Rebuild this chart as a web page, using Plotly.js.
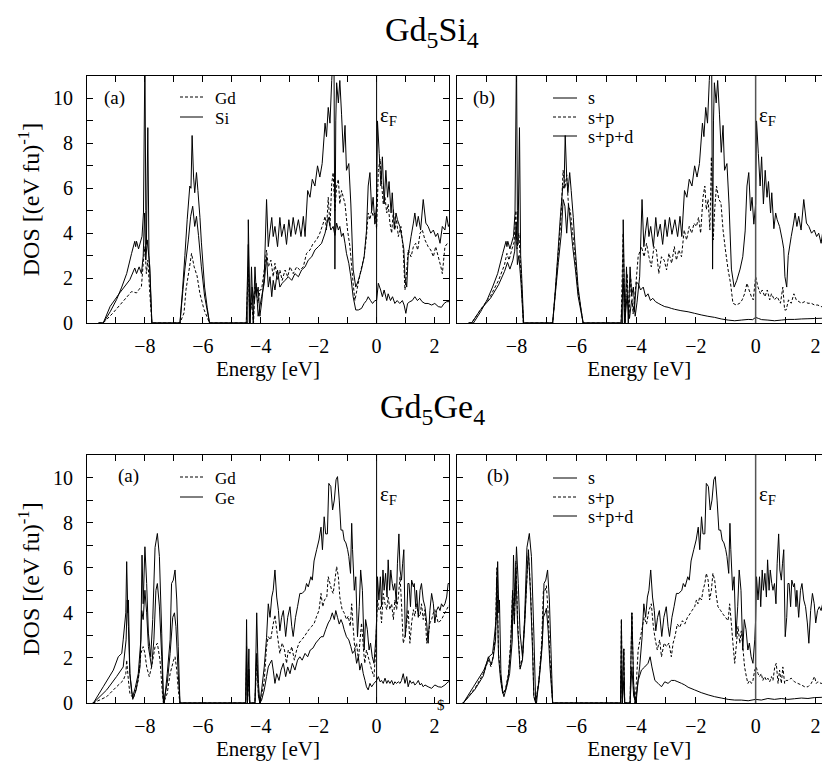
<!DOCTYPE html>
<html><head><meta charset="utf-8">
<script src="https://cdn.plot.ly/plotly-3.0.1.min.js"></script>
<style>body{margin:0;background:#fff}#chart{width:822px;height:769px}</style>
</head><body><div id="chart"></div>
<script>
// ---------- Gd5Si4 : total DOS (top solid in a, s+p+d in b) ----------
const siTotalE = [-9.6,-9.44,-9.2,-8.98,-8.8,-8.63,-8.46,-8.35,-8.32,-8.29,
 -8.22,-8.1,-8.05,-8.0,-7.97,-7.95,-7.9,-7.86,-7.83,-7.76,
 -6.79,-6.7,-6.62,-6.54,-6.45,-6.41,-6.37,-6.32,-6.28,-6.22,
 -6.17,-6.1,-6.05,-5.94,-5.85,-5.77,-4.5,-4.45,-4.43,-4.37,
 -4.32,-4.26,-4.2,-4.15,-4.09,-4.03,-3.97,-3.88,-3.8,-3.74,
 -3.68,-3.62,-3.57,-3.51,-3.42,-3.34,-3.28,-3.19,-3.11,-3.03,
 -2.96,-2.88,-2.8,-2.7,-2.61,-2.53,-2.47,-2.38,-2.3,-2.22,
 -2.13,-2.04,-1.96,-1.88,-1.78,-1.73,-1.67,-1.61,-1.55,-1.5,
 -1.47,-1.44,-1.41,-1.38,-1.32,-1.27,-1.21,-1.15,-1.09,-1.04,
 -0.96,-0.89,-0.81,-0.72,-0.63,-0.52,-0.43,-0.35,-0.29,-0.23,
 -0.17,-0.12,-0.06,0,0.03,0.09,0.15,0.2,0.26,0.32,
 0.38,0.43,0.5,0.54,0.61,0.67,0.72,0.8,0.89,0.94,
 0.98,1.04,1.09,1.19,1.27,1.32,1.38,1.44,1.52,1.61,
 1.7,1.78,1.87,1.96,2.04,2.11,2.19,2.27,2.36,2.42,
 2.48,2.55];
const siTotalD = [0,0,0.5,1.04,1.6,2.2,3.1,3.64,3.4,3.64,
 3.3,3.86,4.9,12,5.0,3.5,8.7,3.0,2.2,0,
 0,1.5,3.0,4.6,6.1,6.0,8.35,6.5,5.8,6.7,
 5.9,4.7,3.6,1.6,0.7,0,0,0,4.6,0,
 2.5,0,2.5,1.2,1.6,0.3,0.9,2.06,5.5,3.4,
 4.1,4.7,3.85,4.3,3.4,4.7,3.85,4.4,3.5,4.6,
 3.85,4.7,3.95,4.6,3.85,4.75,3.85,5.9,5.6,6.4,
 6.1,7.0,6.5,7.1,8.9,8.3,9.6,8.9,10.8,12,
 11.5,2.4,9.0,10.7,9.8,10.8,9.3,7.6,8.8,6.8,
 7.1,5.3,2.4,1.6,1.9,2.4,2.95,4.1,6.1,6.7,
 5.0,5.6,4.4,5.3,9.0,7.55,6.1,7.4,5.3,6.8,
 5.6,6.3,4.9,5.8,4.2,4.9,4.6,4.3,3.7,3.3,
 2.06,1.6,3.0,3.85,4.45,4.9,4.3,4.75,4.14,5.5,
 4.45,4.3,4.0,4.14,3.85,4.0,3.55,4.3,4.14,4.75,
 4.3,4.5];

// Gd5Si4 (a): Gd (dashed)
const siGdE = [-9.6,-9.44,-9.1,-8.75,-8.46,-8.29,-8.2,-8.12,-8.05,-8.0,
 -7.95,-7.9,-7.83,-7.76,-6.79,-6.65,-6.58,-6.47,-6.39,-6.3,
 -6.2,-6.1,-5.96,-5.77,-4.5,-4.43,-4.38,-4.32,-4.25,-4.2,
 -4.09,-4.03,-3.97,-3.88,-3.8,-3.74,-3.65,-3.57,-3.51,-3.42,
 -3.34,-3.26,-3.16,-3.07,-2.99,-2.88,-2.76,-2.65,-2.53,-2.42,
 -2.3,-2.19,-2.07,-1.96,-1.84,-1.78,-1.73,-1.67,-1.61,-1.55,
 -1.5,-1.44,-1.38,-1.32,-1.27,-1.21,-1.15,-1.09,-1.0,-0.92,
 -0.86,-0.81,-0.75,-0.66,-0.54,-0.43,-0.35,-0.29,-0.23,-0.17,
 -0.12,-0.06,0,0.06,0.12,0.17,0.23,0.29,0.35,0.4,
 0.46,0.52,0.58,0.63,0.69,0.75,0.84,0.92,0.98,1.04,
 1.09,1.19,1.27,1.35,1.42,1.5,1.58,1.67,1.78,1.87,
 1.96,2.04,2.13,2.22,2.27,2.36,2.45,2.55];
const siGdD = [0,0,0.45,0.97,1.4,1.34,1.5,1.63,2.8,3.4,
 2.2,2.8,1.3,0,0,0.45,1.5,2.4,3.1,2.5,
 2.1,1.3,0.6,0,0,2.5,0.3,0.9,0,1.6,
 0.9,1.47,1.5,2.36,3.25,2.5,2.8,2.06,2.66,1.9,
 2.36,1.9,2.36,2.06,2.5,2.2,2.5,2.36,2.5,3.1,
 3.25,3.55,3.7,4.0,4.45,4.75,4.14,5.6,4.3,6.2,
 6.7,5.0,6.1,6.4,5.3,5.9,5.6,5.3,4.1,3.4,
 2.5,1.77,1.0,1.6,2.36,2.95,3.85,4.9,4.6,5.0,
 4.75,4.9,4.2,6.8,7.3,6.25,5.3,5.6,4.9,5.3,
 4.45,4.0,5.05,4.14,4.6,3.85,4.3,3.25,1.47,2.36,
 3.25,2.95,3.4,3.55,3.25,4.0,4.14,3.7,3.4,3.25,
 2.95,3.4,2.95,2.5,2.2,3.4,3.55,3.6];

// Gd5Si4 (a): Si (lower solid)
const siSiE = [-9.6,-9.44,-9.2,-8.87,-8.52,-8.35,-8.29,-8.2,-8.12,-8.06,
 -8.01,-7.97,-7.92,-7.83,-7.76,-6.79,-6.7,-6.62,-6.5,-6.42,
 -6.35,-6.28,-6.22,-6.15,-6.05,-5.94,-5.77,-4.5,-4.43,-4.38,
 -4.3,-4.22,-4.16,-4.09,-3.97,-3.88,-3.8,-3.74,-3.68,-3.62,
 -3.57,-3.51,-3.42,-3.34,-3.26,-3.16,-3.05,-2.93,-2.82,-2.7,
 -2.59,-2.47,-2.36,-2.24,-2.13,-2.01,-1.9,-1.78,-1.73,-1.67,
 -1.58,-1.5,-1.44,-1.38,-1.32,-1.27,-1.21,-1.15,-1.09,-1.04,
 -0.96,-0.89,-0.81,-0.72,-0.63,-0.52,-0.43,-0.35,-0.29,-0.21,
 -0.14,-0.06,0,0.06,0.14,0.2,0.26,0.35,0.4,0.48,
 0.55,0.63,0.71,0.8,0.89,0.95,1.01,1.07,1.15,1.23,
 1.32,1.41,1.49,1.57,1.67,1.78,1.9,2.01,2.13,2.24,
 2.33,2.42,2.55];
const siSiD = [0,0,0.74,1.34,1.93,2.45,2.2,2.5,2.2,2.97,
 4.9,2.8,3.7,2.5,0,0,1.3,2.4,3.7,4.75,
 5.2,4.3,4.75,3.9,2.5,1.2,0,0,3.5,0,
 1.6,0.9,1.77,0.3,1.17,1.77,2.95,1.6,2.06,1.17,
 1.9,1.47,2.36,1.6,1.77,1.9,2.06,1.9,2.2,2.06,
 2.36,2.5,2.8,2.95,3.25,3.4,3.55,4.0,4.3,4.7,
 4.14,4.3,3.9,4.45,4.14,4.3,3.85,4.0,3.55,3.1,
 2.66,2.06,1.17,0.58,0.58,0.65,0.87,1.0,1.17,1.0,
 0.87,1.0,1.0,1.77,1.47,1.17,1.47,1.0,1.3,1.0,
 1.17,0.87,1.0,0.87,1.0,0.8,0.43,0.87,0.95,1.0,
 1.17,1.0,1.1,0.95,0.87,0.87,0.8,0.87,0.73,0.7,
 0.87,0.95,0.95];

// Gd5Si4 (b): s+p (dashed)
const siSPE = [-9.6,-9.5,-9.2,-8.87,-8.6,-8.4,-8.32,-8.25,-8.15,-8.08,
 -8.02,-7.98,-7.92,-7.85,-7.77,-6.79,-6.7,-6.62,-6.52,-6.44,
 -6.38,-6.32,-6.26,-6.2,-6.12,-6.03,-5.94,-5.77,-4.5,-4.43,
 -4.38,-4.3,-4.24,-4.18,-4.1,-4.02,-3.93,-3.82,-3.73,-3.65,
 -3.57,-3.49,-3.4,-3.32,-3.24,-3.15,-3.06,-2.98,-2.9,-2.81,
 -2.72,-2.65,-2.57,-2.48,-2.39,-2.31,-2.22,-2.14,-2.06,-1.98,
 -1.91,-1.84,-1.76,-1.7,-1.65,-1.59,-1.53,-1.48,-1.42,-1.37,
 -1.31,-1.23,-1.16,-1.09,-1.01,-0.92,-0.84,-0.76,-0.65,-0.53,
 -0.45,-0.37,-0.29,-0.22,-0.14,-0.08,0,0.08,0.16,0.22,
 0.31,0.39,0.47,0.53,0.63,0.72,0.83,0.91,0.97,1.02,
 1.1,1.19,1.28,1.36,1.45,1.53,1.64,1.75,1.86,1.97,
 2.08,2.19,2.3];
const siSPD = [0,0,0.6,1.2,1.9,2.6,3.1,2.8,3.3,3.6,
 5.0,3.3,4.0,2.2,0,0,1.4,2.8,4.5,6.8,
 6.0,6.6,5.2,5.0,4.0,2.8,1.4,0,0,4.0,
 0,2.2,0.3,2.0,0.4,1.5,2.95,3.4,2.95,3.55,
 2.95,2.5,3.4,3.25,2.2,2.95,2.8,2.36,3.1,2.66,
 3.4,2.8,3.25,2.95,4.14,3.7,4.3,4.0,4.44,4.3,
 4.7,4.0,5.6,6.1,5.05,5.5,4.14,7.4,3.7,5.05,
 6.1,5.5,5.35,4.14,3.25,2.36,1.77,0.88,0.8,0.88,
 1.03,1.3,1.77,1.47,1.17,1.03,2.06,1.6,1.3,1.47,
 1.17,1.47,1.03,1.3,1.03,1.17,0.88,1.6,0.58,0.58,
 1.03,0.88,1.3,1.03,0.95,0.88,0.95,0.88,0.88,0.8,
 0.8,0.73,0.73];

// Gd5Si4 (b): s (lowest solid)
const siSE = [-9.6,-9.5,-9.2,-8.87,-8.6,-8.4,-8.3,-8.22,-8.12,-8.06,
 -8.01,-7.97,-7.92,-7.85,-7.77,-6.79,-6.7,-6.6,-6.5,-6.44,
 -6.38,-6.32,-6.26,-6.2,-6.12,-6.03,-5.94,-5.77,-4.5,-4.43,
 -4.38,-4.3,-4.22,-4.15,-4.06,-3.99,-3.93,-3.85,-3.76,-3.68,
 -3.6,-3.52,-3.44,-3.35,-3.26,-3.15,-3.04,-2.93,-2.82,-2.71,
 -2.5,-2.26,-2.04,-1.82,-1.6,-1.37,-1.15,-0.92,-0.7,-0.48,
 -0.25,-0.1,0,0.1,0.2,0.41,0.63,0.86,1.08,1.3,
 1.53,1.75,1.97,2.19,2.3];
const siSD = [0,0,0.6,1.1,1.7,2.3,2.7,2.4,2.8,3.2,
 4.5,2.6,3.0,1.8,0,0,1.3,2.7,4.0,5.5,
 5.2,4.0,5.3,4.5,3.4,2.4,1.2,0,0,2.0,
 0,1.2,0.2,1.0,0.5,1.8,1.77,1.47,1.6,1.17,
 1.3,1.0,1.1,0.95,0.88,0.8,0.73,0.7,0.65,0.61,
 0.55,0.5,0.43,0.36,0.3,0.25,0.18,0.13,0.1,0.13,
 0.16,0.15,0.25,0.2,0.15,0.13,0.1,0.13,0.16,0.16,
 0.18,0.19,0.2,0.21,0.22];

// ---------- Gd5Ge4 : total DOS ----------
const geTotalE = [-9.8,-9.78,-9.44,-9.09,-8.92,-8.8,-8.75,-8.66,-8.63,-8.59,
 -8.57,-8.52,-8.46,-8.42,-8.33,-8.23,-8.14,-8.1,-8.06,-8.0,
 -7.94,-7.88,-7.8,-7.73,-7.65,-7.57,-7.5,-7.42,-7.36,-7.33,
 -7.23,-7.13,-7.08,-7.02,-6.96,-6.9,-6.85,-6.79,-4.52,-4.49,
 -4.46,-4.41,-4.38,-4.2,-4.14,-4.08,-4.03,-3.97,-3.88,-3.8,
 -3.74,-3.68,-3.62,-3.57,-3.51,-3.45,-3.39,-3.34,-3.28,-3.22,
 -3.14,-3.07,-2.99,-2.93,-2.88,-2.8,-2.73,-2.65,-2.57,-2.47,
 -2.42,-2.36,-2.27,-2.22,-2.16,-2.07,-1.99,-1.92,-1.87,-1.81,
 -1.76,-1.7,-1.65,-1.58,-1.52,-1.46,-1.4,-1.35,-1.29,-1.23,
 -1.17,-1.12,-1.06,-1.0,-0.96,-0.9,-0.86,-0.83,-0.77,-0.72,
 -0.66,-0.6,-0.55,-0.49,-0.43,-0.38,-0.32,-0.26,-0.21,-0.15,
 -0.09,-0.03,0,0.03,0.08,0.13,0.17,0.22,0.26,0.31,
 0.36,0.4,0.45,0.49,0.54,0.58,0.63,0.68,0.72,0.77,
 0.81,0.86,0.9,0.94,0.99,1.04,1.08,1.12,1.17,1.21,
 1.27,1.3,1.35,1.38,1.44,1.5,1.55,1.61,1.67,1.73,
 1.78,1.84,1.9,1.96,2.01,2.07,2.13,2.19,2.24,2.3,
 2.36,2.42,2.47,2.55];
const geTotalD = [0,0,0.72,1.46,2.05,2.2,2.8,4.0,6.27,4.0,
 4.57,1.3,0.5,0.28,0.7,1.3,2.8,6.56,4.4,6.93,
 5.3,3.1,2.05,3.7,6.9,7.52,6.5,3.1,0.13,0,
 1.3,2.8,5.3,5.45,5.9,4.57,2.5,0,0,3.7,
 0,2.4,0,0,4.0,0.87,0,0.58,1.6,2.9,
 4.4,3.8,4.7,5.0,5.9,4.7,4.1,3.2,3.8,4.1,
 2.95,3.8,4.27,3.4,2.95,3.8,4.27,4.86,4.86,5.0,
 5.3,5.15,5.6,5.45,6.3,6.8,7.23,7.8,6.8,8.26,
 7.5,7.5,9.74,9.6,8.56,9.0,9.9,10.04,9.0,7.67,
 7.67,7.23,7.1,6.8,6.5,5.75,7.97,6.8,5.0,5.6,
 2.94,4.27,5.9,5.0,2.35,3.7,3.25,2.35,2.66,2.05,
 1.76,2.8,3.7,5.6,4.57,5.6,4.27,5.9,5.0,5.75,
 4.7,6.35,5.0,5.9,5.3,5.0,5.3,4.4,6.2,7.5,
 5.9,5.45,6.2,6.8,2.94,3.8,5.3,5.3,4.27,5.45,
 5.15,5.3,4.27,5.0,3.8,5.0,5.3,4.57,4.27,3.55,
 2.65,4.1,4.86,4.4,3.55,4.1,4.27,4.1,4.4,4.27,
 4.4,4.7,5.3,5.3];

// Gd5Ge4 (a): Gd (dashed)
const geGdE = [-9.8,-9.78,-9.32,-8.98,-8.75,-8.66,-8.63,-8.57,-8.52,-8.4,
 -8.23,-8.14,-8.06,-8.0,-7.94,-7.85,-7.77,-7.65,-7.57,-7.48,
 -7.4,-7.36,-7.23,-7.13,-7.01,-6.96,-6.9,-6.85,-6.79,-4.52,
 -4.49,-4.46,-4.41,-4.38,-4.2,-4.14,-4.08,-4.03,-3.97,-3.88,
 -3.8,-3.74,-3.66,-3.57,-3.51,-3.45,-3.39,-3.34,-3.26,-3.18,
 -3.11,-3.05,-2.99,-2.93,-2.84,-2.76,-2.68,-2.59,-2.5,-2.42,
 -2.34,-2.24,-2.15,-2.07,-1.99,-1.92,-1.86,-1.8,-1.72,-1.67,
 -1.61,-1.55,-1.5,-1.44,-1.38,-1.32,-1.27,-1.19,-1.12,-1.04,
 -0.98,-0.91,-0.86,-0.82,-0.75,-0.69,-0.63,-0.57,-0.52,-0.45,
 -0.41,-0.35,-0.29,-0.23,-0.17,-0.09,-0.03,0,0.03,0.08,
 0.13,0.17,0.23,0.29,0.35,0.4,0.46,0.52,0.58,0.63,
 0.69,0.75,0.81,0.86,0.92,0.98,1.04,1.09,1.15,1.21,
 1.27,1.32,1.38,1.44,1.5,1.55,1.61,1.67,1.73,1.78,
 1.84,1.9,1.96,2.01,2.13,2.24,2.36,2.47,2.55];
const geGdD = [0,0,0.28,0.72,1.0,1.3,1.9,1.0,0.43,0.2,
 1.0,2.2,2.5,2.2,1.6,1.17,1.6,2.5,2.65,1.9,
 0.5,0,0.43,1.3,1.9,2.05,1.46,0.6,0,0,
 1.8,0,1.2,0,0,2.0,0.4,0,0.28,1.0,
 2.5,2.94,2.8,3.5,3.9,3.25,2.66,2.2,2.66,2.35,
 1.76,2.35,2.2,2.5,1.9,2.35,2.66,2.8,2.94,3.1,
 3.25,3.4,3.55,3.85,4.1,4.86,4.27,4.57,4.7,5.6,
 5.3,5.0,4.86,5.45,6.05,5.6,4.7,4.14,4.0,3.7,
 3.85,3.4,4.4,3.55,2.35,2.66,1.9,2.8,3.55,2.35,
 1.76,2.35,2.05,1.76,1.46,1.17,2.35,3.55,4.57,4.14,
 4.27,3.55,4.86,4.4,4.14,4.7,4.14,4.4,3.7,4.57,
 4.14,4.7,5.6,4.4,2.65,2.94,3.55,4.14,2.65,3.55,
 4.14,3.85,4.4,3.94,3.85,4.4,3.7,4.14,2.65,2.94,
 3.55,3.7,4.0,4.14,3.55,3.7,4.0,4.27,4.4];

// Gd5Ge4 (a): Ge (lower solid)
const geGeE = [-9.8,-9.78,-9.32,-8.98,-8.75,-8.65,-8.61,-8.57,-8.52,-8.42,
 -8.3,-8.17,-8.11,-8.06,-8.0,-7.94,-7.88,-7.77,-7.69,-7.62,
 -7.57,-7.5,-7.42,-7.36,-7.23,-7.13,-7.04,-6.98,-6.93,-6.85,
 -6.79,-4.52,-4.49,-4.46,-4.41,-4.38,-4.2,-4.14,-4.08,-4.03,
 -3.97,-3.88,-3.8,-3.74,-3.68,-3.62,-3.57,-3.51,-3.45,-3.37,
 -3.3,-3.22,-3.14,-3.07,-2.99,-2.91,-2.82,-2.73,-2.65,-2.57,
 -2.47,-2.38,-2.29,-2.2,-2.1,-2.01,-1.92,-1.84,-1.76,-1.67,
 -1.6,-1.53,-1.46,-1.41,-1.35,-1.29,-1.23,-1.17,-1.12,-1.04,
 -0.96,-0.89,-0.83,-0.75,-0.69,-0.63,-0.58,-0.52,-0.46,-0.4,
 -0.35,-0.29,-0.23,-0.17,-0.09,0,0.06,0.12,0.17,0.23,
 0.29,0.35,0.4,0.46,0.52,0.58,0.63,0.69,0.75,0.81,
 0.86,0.92,0.98,1.04,1.09,1.15,1.21,1.27,1.32,1.38,
 1.44,1.5,1.55,1.61,1.67,1.78,1.9,2.01,2.13,2.24,
 2.36,2.47,2.55];
const geGeD = [0,0,0.58,1.17,1.6,2.8,4.57,3.4,1.3,0.16,
 0.58,1.6,4.1,3.7,5.0,4.0,2.5,1.6,2.8,5.0,
 5.3,4.3,2.05,0,0.87,2.2,3.8,4.0,3.4,1.3,
 0,0,2.5,0,1.5,0,0,2.2,0.3,0,
 0.13,0.58,1.17,1.6,1.76,1.9,1.46,0.87,1.3,1.0,
 1.46,1.76,1.17,1.6,1.3,1.76,1.46,1.9,2.05,1.9,
 2.2,2.05,2.35,2.43,2.66,2.8,2.94,2.94,3.25,3.55,
 3.7,4.0,3.7,4.1,3.8,3.5,3.7,3.5,3.25,2.94,
 2.8,2.5,2.2,2.35,1.76,2.05,1.46,1.76,1.3,1.0,
 0.72,0.58,0.87,0.72,0.87,1.0,1.17,0.94,1.0,0.87,
 1.1,0.87,1.0,0.87,1.0,0.8,0.94,0.87,0.94,0.87,
 1.0,1.3,0.87,1.17,0.72,1.0,0.87,0.94,0.8,0.87,
 1.0,0.8,0.87,0.72,0.8,0.72,0.65,0.8,0.72,0.7,
 0.8,0.94,0.95];

// Gd5Ge4 (b): s+p (dashed)
const geSPE = [-9.8,-9.78,-9.39,-9.11,-8.94,-8.85,-8.78,-8.7,-8.66,-8.6,
 -8.53,-8.46,-8.37,-8.27,-8.19,-8.13,-8.07,-8.02,-7.96,-7.88,
 -7.8,-7.72,-7.64,-7.6,-7.53,-7.46,-7.42,-7.36,-7.25,-7.16,
 -7.1,-7.04,-7.0,-6.94,-6.88,-6.82,-6.79,-4.52,-4.49,-4.46,
 -4.41,-4.38,-4.2,-4.14,-4.08,-4.03,-3.99,-3.93,-3.85,-3.73,
 -3.65,-3.57,-3.49,-3.43,-3.37,-3.29,-3.21,-3.15,-3.06,-2.98,
 -2.9,-2.82,-2.76,-2.7,-2.62,-2.54,-2.45,-2.37,-2.28,-2.2,
 -2.13,-2.04,-1.98,-1.93,-1.87,-1.81,-1.76,-1.7,-1.65,-1.59,
 -1.54,-1.48,-1.43,-1.37,-1.31,-1.26,-1.17,-1.09,-1.01,-0.92,
 -0.87,-0.81,-0.76,-0.7,-0.64,-0.59,-0.53,-0.48,-0.42,-0.37,
 -0.31,-0.26,-0.2,-0.14,-0.09,-0.03,0.02,0.08,0.13,0.19,
 0.24,0.3,0.36,0.41,0.47,0.53,0.58,0.64,0.69,0.75,
 0.8,0.86,0.91,0.97,1.02,1.08,1.19,1.3,1.41,1.53,
 1.64,1.75,1.86,1.97,2.03,2.08,2.19,2.3];
const geSPD = [0,0,0.65,1.3,1.9,1.6,2.1,3.0,6.0,2.2,
 1.2,0.43,0.6,1.3,2.8,5.0,3.6,6.3,3.6,1.6,
 2.0,3.8,5.8,6.65,5.0,2.5,0.3,0,1.0,2.6,
 5.0,5.0,5.2,4.0,2.0,0.6,0,0,3.7,0,
 2.4,0,0,4.0,0.6,0,0.9,2.35,2.94,3.8,
 3.5,4.1,4.4,3.5,2.9,2.35,2.8,2.05,2.66,2.5,
 2.66,2.05,2.66,2.94,3.5,3.35,3.65,3.5,3.8,3.95,
 4.1,4.27,4.57,4.4,4.7,4.57,5.0,5.3,5.75,5.45,
 4.57,5.0,5.75,5.45,4.7,4.27,4.1,3.94,3.8,3.65,
 4.4,3.5,2.65,1.76,2.65,3.4,2.65,3.2,2.35,1.6,
 1.17,0.87,1.0,0.87,1.0,1.46,1.6,1.3,1.17,1.3,
 1.0,1.17,1.0,1.1,0.94,1.17,1.0,1.6,1.76,0.87,
 1.46,0.87,1.6,0.87,1.0,1.0,1.1,0.94,0.87,0.8,
 0.72,0.72,0.87,1.17,0.87,0.94,0.87,0.87];

// Gd5Ge4 (b): s (lowest solid)
const geSE = [-9.8,-9.78,-9.39,-9.11,-8.94,-8.85,-8.78,-8.7,-8.66,-8.6,
 -8.53,-8.46,-8.37,-8.27,-8.19,-8.13,-8.07,-8.02,-7.96,-7.88,
 -7.8,-7.72,-7.64,-7.6,-7.53,-7.46,-7.42,-7.36,-7.25,-7.16,
 -7.1,-7.04,-7.0,-6.94,-6.88,-6.82,-6.79,-4.52,-4.49,-4.46,
 -4.41,-4.38,-4.2,-4.14,-4.08,-4.0,-3.93,-3.82,-3.71,-3.6,
 -3.53,-3.47,-3.37,-3.26,-3.15,-3.04,-2.93,-2.82,-2.71,-2.6,
 -2.48,-2.37,-2.26,-2.04,-1.82,-1.59,-1.37,-1.15,-0.92,-0.7,
 -0.48,-0.25,0,0.19,0.41,0.63,0.86,1.08,1.3,1.53,
 1.75,1.97,2.19,2.3];
const geSD = [0,0,0.6,1.2,2.05,1.7,2.0,2.8,5.5,2.05,
 1.0,0.43,0.55,1.2,2.5,4.9,3.5,6.0,3.3,1.5,
 1.9,3.6,5.9,6.8,4.8,2.2,0.3,0,0.9,2.2,
 3.8,4.0,4.2,3.2,1.6,0.5,0,0,1.5,0,
 1.0,0,0,1.6,0.3,0,1.0,1.46,1.6,1.76,
 2.05,1.6,1.0,0.87,0.72,0.94,0.87,1.0,1.0,0.94,
 0.87,0.8,0.7,0.58,0.46,0.36,0.28,0.22,0.16,0.13,
 0.13,0.1,0.16,0.13,0.2,0.16,0.2,0.16,0.19,0.22,
 0.2,0.24,0.25,0.26];

// ---------- ticks & labels ----------
const xMajor = [-8,-6,-4,-2,0,2];
const xMinor = [-9,-7,-5,-3,-1,1];
const yMajor = [0,2,4,6,8,10];
const yMinor = [1,3,5,7,9];
const compounds = ['Gd<sub>5</sub>Si<sub>4</sub>','Gd<sub>5</sub>Ge<sub>4</sub>'];
const legendA = [['Gd','Si'],['Gd','Ge']];
const legendB = ['s','s+p','s+p+d'];

// sanity check
const pairs = [[siTotalE,siTotalD,'siTotal'],[siGdE,siGdD,'siGd'],[siSiE,siSiD,'siSi'],[siSPE,siSPD,'siSP'],[siSE,siSD,'siS'],
 [geTotalE,geTotalD,'geTotal'],[geGdE,geGdD,'geGd'],[geGeE,geGeD,'geGe'],[geSPE,geSPD,'geSP'],[geSE,geSD,'geS']];
pairs.forEach(p=>{ if(p[0].length!==p[1].length) throw new Error(p[2]+' length mismatch '+p[0].length+' vs '+p[1].length); });

const W = 822, H = 769;
const fx = x => x / W, fy = y => 1 - y / H;
const FONT = 'Liberation Serif, Times New Roman, serif';
const DASH = '3px,2px';

function tr(x, y, xa, ya, dashed, name) {
  return {x: x, y: y, xaxis: xa, yaxis: ya, type: 'scatter', mode: 'lines', name: name,
    showlegend: false, hoverinfo: 'skip',
    line: {color: '#000', width: 1, dash: dashed ? DASH : 'solid', simplify: false}};
}
const data = [
  tr(siTotalE, siTotalD, 'x', 'y', false, 'total'),
  tr(siGdE, siGdD, 'x', 'y', true, 'Gd'),
  tr(siSiE, siSiD, 'x', 'y', false, 'Si'),
  tr(siTotalE, siTotalD, 'x2', 'y2', false, 's+p+d'),
  tr(siSPE, siSPD, 'x2', 'y2', true, 's+p'),
  tr(siSE, siSD, 'x2', 'y2', false, 's'),
  tr(geTotalE, geTotalD, 'x3', 'y3', false, 'total'),
  tr(geGdE, geGdD, 'x3', 'y3', true, 'Gd'),
  tr(geGeE, geGeD, 'x3', 'y3', false, 'Ge'),
  tr(geTotalE, geTotalD, 'x4', 'y4', false, 's+p+d'),
  tr(geSPE, geSPD, 'x4', 'y4', true, 's+p'),
  tr(geSE, geSD, 'x4', 'y4', false, 's')
];

const leftX = [fx(87), fx(449)];
const rightX = [fx(456.7), 1];
const topY = [fy(323), fy(76)];
const botY = [fy(703), fy(455)];
const minorTicks = vals => ({tickmode: 'array', tickvals: vals, ticks: 'inside', ticklen: 6, tickwidth: 1, tickcolor: '#000', showgrid: false});

function xax(domain, anchor, range) {
  return {domain: domain, anchor: anchor, range: range, showline: true, linecolor: '#000', linewidth: 1,
    mirror: 'ticks', ticks: 'inside', ticklen: 6, tickwidth: 1, tickcolor: '#000',
    tickmode: 'array', tickvals: xMajor, minor: minorTicks(xMinor), showgrid: false, zeroline: false,
    tickfont: {family: FONT, size: 20, color: '#000'}, ticklabelstandoff: 5,
    title: {text: 'Energy [eV]', font: {family: FONT, size: 21, color: '#000'}, standoff: 1}};
}
function yax(domain, anchor, left) {
  const a = {domain: domain, anchor: anchor, range: [0, 11], showline: true, linecolor: '#000', linewidth: 1,
    mirror: left ? 'ticks' : false, ticks: 'inside', ticklen: 6, tickwidth: 1, tickcolor: '#000',
    tickmode: 'array', tickvals: yMajor, minor: minorTicks(yMinor), showgrid: false, zeroline: false,
    showticklabels: left, tickfont: {family: FONT, size: 20, color: '#000'}, ticklabelstandoff: 9};
  if (left) a.title = {text: 'DOS [(eV fu)<sup>-1</sup>]', font: {family: FONT, size: 24, color: '#000'}, standoff: 6};
  return a;
}

const shapes = [];
const annotations = [];
function fermi(xr, yr, col, w) {
  shapes.push({type: 'line', xref: xr, x0: 0, x1: 0, yref: yr + ' domain', y0: 0, y1: 1,
    line: {color: col, width: w}});
  annotations.push({xref: xr, x: 0, xanchor: 'left', xshift: 1, yref: yr + ' domain', y: 0.838, yanchor: 'middle',
    text: '\u03b5<sub>F</sub>', showarrow: false, font: {family: FONT, size: 21, color: '#000'}});
}
fermi('x', 'y', '#000', 1);
fermi('x2', 'y2', '#555', 1.5);
fermi('x3', 'y3', '#000', 1);
fermi('x4', 'y4', '#555', 1.5);

function txt(t, x, y, size, xanchor) {
  annotations.push({xref: 'paper', yref: 'paper', x: fx(x), y: fy(y), xanchor: xanchor || 'center', yanchor: 'middle',
    text: t, showarrow: false, borderpad: 0, font: {family: FONT, size: size, color: '#000'}});
}
function key(x0, x1, y, dashed) {
  shapes.push({type: 'line', xref: 'paper', yref: 'paper', x0: fx(x0), x1: fx(x1), y0: fy(y), y1: fy(y),
    line: {color: '#000', width: 1, dash: dashed ? DASH : 'solid'}});
}
// titles
txt(compounds[0], 432, 32, 34);
txt(compounds[1], 432, 409, 34);
// panel labels
txt('(a)', 114, 98, 19); txt('(b)', 484, 98, 19);
txt('(a)', 128, 476, 19); txt('(b)', 498, 476, 19);
// legends (a)
[[97, 117], [477, 497]].forEach((ys, i) => {
  key(180, 203, ys[0], true); txt(legendA[i][0], 214, ys[0] + 1, 17, 'left');
  key(180, 203, ys[1], false); txt(legendA[i][1], 214, ys[1] + 1, 17, 'left');
});
// legends (b)
[[98, 117, 136], [478, 497, 516]].forEach(ys => {
  key(553, 577, ys[0], false); txt(legendB[0], 587, ys[0], 18, 'left');
  key(553, 577, ys[1], true); txt(legendB[1], 587, ys[1] + 1, 18, 'left');
  key(553, 577, ys[2], false); txt(legendB[2], 587, ys[2] + 1, 18, 'left');
});
txt('$', 441, 705, 15);

const layout = {
  width: W, height: H, margin: {l: 0, r: 0, t: 0, b: 0}, paper_bgcolor: '#fff', plot_bgcolor: '#fff',
  font: {family: FONT, color: '#000'}, showlegend: false,
  xaxis: xax(leftX, 'y', [-10, 2.5]),
  yaxis: yax(topY, 'x', true),
  xaxis2: xax(rightX, 'y2', [-10, 2.22]),
  yaxis2: yax(topY, 'x2', false),
  xaxis3: xax(leftX, 'y3', [-10, 2.5]),
  yaxis3: yax(botY, 'x3', true),
  xaxis4: xax(rightX, 'y4', [-10, 2.22]),
  yaxis4: yax(botY, 'x4', false),
  shapes: shapes, annotations: annotations
};
Plotly.newPlot('chart', data, layout, {staticPlot: true, displayModeBar: false});
</script></body></html>
